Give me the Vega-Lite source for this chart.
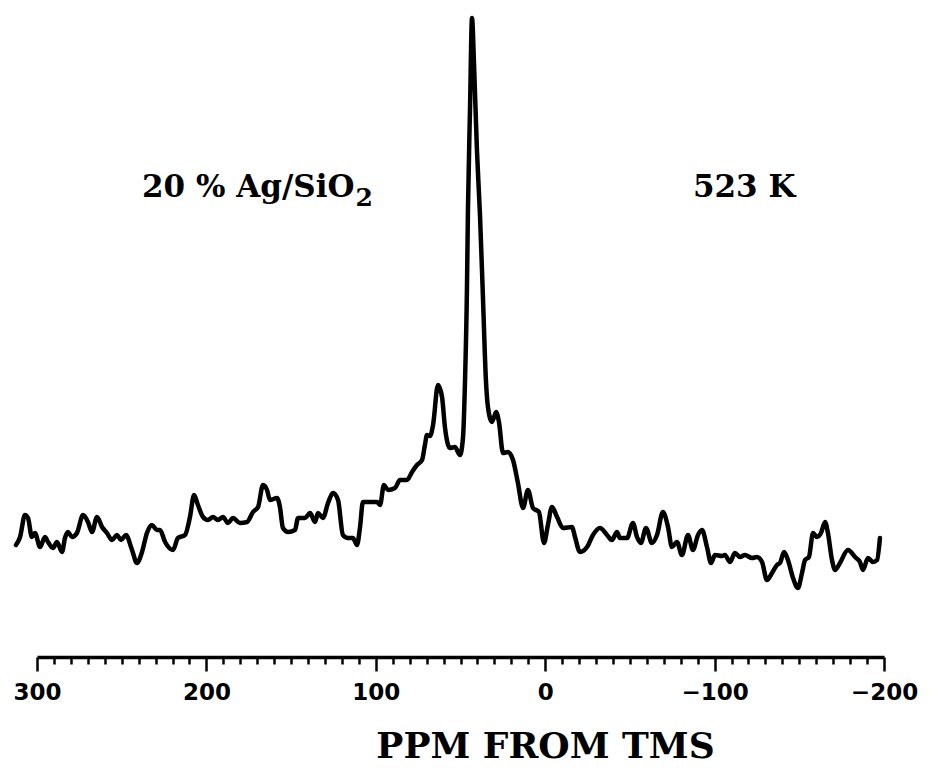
{
  "$schema": "https://vega.github.io/schema/vega-lite/v6.json",
  "width": 847,
  "height": 657,
  "autosize": {"type": "none"},
  "padding": {"left": 37, "top": 0, "right": 45, "bottom": 114},
  "background": "white",
  "view": {"stroke": null},
  "config": {"axis": {"grid": false}},
  "resolve": {"axis": {"x": "independent", "y": "independent"}},
  "layer": [
    {
      "data": {"values": [
        {"ppm": 312.4, "intensity": 112}, {"ppm": 310.0, "intensity": 120}, {"ppm": 307.1, "intensity": 142}, {"ppm": 305.3, "intensity": 139},
        {"ppm": 303.0, "intensity": 120}, {"ppm": 301.2, "intensity": 124}, {"ppm": 298.2, "intensity": 110}, {"ppm": 295.3, "intensity": 120},
        {"ppm": 293.5, "intensity": 115}, {"ppm": 290.6, "intensity": 109}, {"ppm": 288.2, "intensity": 115}, {"ppm": 285.2, "intensity": 105},
        {"ppm": 283.5, "intensity": 119}, {"ppm": 281.7, "intensity": 125}, {"ppm": 279.3, "intensity": 120}, {"ppm": 276.4, "intensity": 124},
        {"ppm": 272.8, "intensity": 142}, {"ppm": 269.9, "intensity": 135}, {"ppm": 267.5, "intensity": 125}, {"ppm": 264.6, "intensity": 140},
        {"ppm": 261.6, "intensity": 130}, {"ppm": 258.7, "intensity": 124}, {"ppm": 255.7, "intensity": 117}, {"ppm": 252.8, "intensity": 122},
        {"ppm": 250.4, "intensity": 117}, {"ppm": 247.5, "intensity": 122}, {"ppm": 243.9, "intensity": 107}, {"ppm": 241.0, "intensity": 94},
        {"ppm": 238.0, "intensity": 105}, {"ppm": 235.1, "intensity": 124}, {"ppm": 232.1, "intensity": 132}, {"ppm": 229.2, "intensity": 127},
        {"ppm": 227.4, "intensity": 127}, {"ppm": 224.4, "intensity": 115}, {"ppm": 219.7, "intensity": 107}, {"ppm": 216.8, "intensity": 119},
        {"ppm": 212.6, "intensity": 122}, {"ppm": 209.7, "intensity": 140}, {"ppm": 207.3, "intensity": 162}, {"ppm": 205.0, "intensity": 152},
        {"ppm": 202.0, "intensity": 140}, {"ppm": 199.1, "intensity": 137}, {"ppm": 196.1, "intensity": 140}, {"ppm": 193.2, "intensity": 137},
        {"ppm": 190.2, "intensity": 140}, {"ppm": 187.3, "intensity": 134}, {"ppm": 184.3, "intensity": 139}, {"ppm": 180.2, "intensity": 134},
        {"ppm": 176.0, "intensity": 135}, {"ppm": 172.5, "intensity": 145}, {"ppm": 169.5, "intensity": 150}, {"ppm": 166.6, "intensity": 172},
        {"ppm": 164.2, "intensity": 167}, {"ppm": 162.5, "intensity": 157}, {"ppm": 158.3, "intensity": 159}, {"ppm": 156.6, "intensity": 150},
        {"ppm": 154.8, "intensity": 129}, {"ppm": 151.8, "intensity": 125}, {"ppm": 147.7, "intensity": 127}, {"ppm": 145.9, "intensity": 139},
        {"ppm": 141.8, "intensity": 139}, {"ppm": 138.8, "intensity": 144}, {"ppm": 135.9, "intensity": 135}, {"ppm": 134.1, "intensity": 144},
        {"ppm": 131.2, "intensity": 139}, {"ppm": 128.2, "intensity": 154}, {"ppm": 125.3, "intensity": 164}, {"ppm": 122.3, "intensity": 157},
        {"ppm": 119.4, "intensity": 122}, {"ppm": 116.4, "intensity": 119}, {"ppm": 113.5, "intensity": 119}, {"ppm": 111.1, "intensity": 112},
        {"ppm": 109.3, "intensity": 130}, {"ppm": 107.6, "intensity": 155}, {"ppm": 103.4, "intensity": 155}, {"ppm": 99.3, "intensity": 155},
        {"ppm": 97.5, "intensity": 152}, {"ppm": 95.2, "intensity": 172}, {"ppm": 92.8, "intensity": 167}, {"ppm": 88.7, "intensity": 169},
        {"ppm": 85.7, "intensity": 177}, {"ppm": 81.6, "intensity": 177}, {"ppm": 78.6, "intensity": 185}, {"ppm": 75.7, "intensity": 192},
        {"ppm": 72.7, "intensity": 197}, {"ppm": 71.0, "intensity": 212}, {"ppm": 69.8, "intensity": 222}, {"ppm": 68.0, "intensity": 221},
        {"ppm": 66.2, "intensity": 232}, {"ppm": 63.3, "intensity": 272}, {"ppm": 60.9, "intensity": 260}, {"ppm": 59.2, "intensity": 230},
        {"ppm": 56.2, "intensity": 209}, {"ppm": 53.3, "intensity": 210}, {"ppm": 50.3, "intensity": 202}, {"ppm": 48.5, "intensity": 220},
        {"ppm": 47.4, "intensity": 272}, {"ppm": 46.2, "intensity": 367}, {"ppm": 45.6, "intensity": 447}, {"ppm": 44.4, "intensity": 547},
        {"ppm": 43.2, "intensity": 639}, {"ppm": 42.0, "intensity": 592}, {"ppm": 40.3, "intensity": 507}, {"ppm": 38.5, "intensity": 442},
        {"ppm": 36.7, "intensity": 357}, {"ppm": 35.0, "intensity": 277}, {"ppm": 33.8, "intensity": 250}, {"ppm": 31.4, "intensity": 235},
        {"ppm": 29.0, "intensity": 245}, {"ppm": 27.3, "intensity": 235}, {"ppm": 24.9, "intensity": 204}, {"ppm": 22.0, "intensity": 205},
        {"ppm": 19.0, "intensity": 197}, {"ppm": 16.1, "intensity": 174}, {"ppm": 13.1, "intensity": 149}, {"ppm": 10.2, "intensity": 167},
        {"ppm": 7.2, "intensity": 149}, {"ppm": 3.7, "intensity": 145}, {"ppm": 0.7, "intensity": 114}, {"ppm": -1.6, "intensity": 132},
        {"ppm": -4.0, "intensity": 150}, {"ppm": -7.0, "intensity": 140}, {"ppm": -10.5, "intensity": 129}, {"ppm": -15.8, "intensity": 130},
        {"ppm": -17.6, "intensity": 120}, {"ppm": -20.5, "intensity": 105}, {"ppm": -24.7, "intensity": 110}, {"ppm": -28.2, "intensity": 122},
        {"ppm": -32.3, "intensity": 129}, {"ppm": -36.5, "intensity": 122}, {"ppm": -39.4, "intensity": 117}, {"ppm": -42.4, "intensity": 125},
        {"ppm": -44.1, "intensity": 119}, {"ppm": -48.3, "intensity": 119}, {"ppm": -51.8, "intensity": 134}, {"ppm": -54.2, "intensity": 120},
        {"ppm": -56.5, "intensity": 114}, {"ppm": -59.5, "intensity": 129}, {"ppm": -63.0, "intensity": 114}, {"ppm": -66.0, "intensity": 122},
        {"ppm": -69.5, "intensity": 145}, {"ppm": -72.5, "intensity": 130}, {"ppm": -74.8, "intensity": 110}, {"ppm": -77.8, "intensity": 115},
        {"ppm": -80.7, "intensity": 102}, {"ppm": -84.3, "intensity": 122}, {"ppm": -87.2, "intensity": 107}, {"ppm": -90.2, "intensity": 122},
        {"ppm": -92.6, "intensity": 127}, {"ppm": -95.5, "intensity": 110}, {"ppm": -97.9, "intensity": 94}, {"ppm": -100.2, "intensity": 102},
        {"ppm": -104.4, "intensity": 101}, {"ppm": -106.1, "intensity": 102}, {"ppm": -109.1, "intensity": 95}, {"ppm": -112.0, "intensity": 104},
        {"ppm": -115.0, "intensity": 100}, {"ppm": -117.9, "intensity": 102}, {"ppm": -122.1, "intensity": 99}, {"ppm": -125.0, "intensity": 100},
        {"ppm": -128.0, "intensity": 95}, {"ppm": -130.9, "intensity": 77}, {"ppm": -133.9, "intensity": 84}, {"ppm": -136.8, "intensity": 92},
        {"ppm": -138.6, "intensity": 94}, {"ppm": -141.0, "intensity": 105}, {"ppm": -143.3, "intensity": 97}, {"ppm": -146.3, "intensity": 79},
        {"ppm": -149.2, "intensity": 69}, {"ppm": -151.6, "intensity": 84}, {"ppm": -153.4, "intensity": 97}, {"ppm": -155.7, "intensity": 100},
        {"ppm": -158.1, "intensity": 124}, {"ppm": -160.4, "intensity": 120}, {"ppm": -162.8, "intensity": 124}, {"ppm": -165.2, "intensity": 135},
        {"ppm": -166.9, "intensity": 124}, {"ppm": -169.3, "intensity": 97}, {"ppm": -171.1, "intensity": 87}, {"ppm": -174.0, "intensity": 94},
        {"ppm": -178.7, "intensity": 107}, {"ppm": -182.9, "intensity": 100}, {"ppm": -185.8, "intensity": 95}, {"ppm": -187.6, "intensity": 87},
        {"ppm": -190.5, "intensity": 99}, {"ppm": -193.5, "intensity": 95}, {"ppm": -195.9, "intensity": 97}, {"ppm": -197.6, "intensity": 119}
      ]},
      "mark": {"type": "line", "color": "black", "strokeWidth": 4.5, "interpolate": "monotone", "strokeJoin": "round", "strokeCap": "round", "clip": false},
      "encoding": {
        "x": {
          "field": "ppm", "type": "quantitative",
          "scale": {"domain": [300, -200], "nice": false, "zero": false},
          "axis": {
            "orient": "bottom",
            "values": [300, 290, 280, 270, 260, 250, 240, 230, 220, 210, 200, 190, 180, 170, 160, 150, 140, 130, 120, 110, 100, 90, 80, 70, 60, 50, 40, 30, 20, 10, 0, -10, -20, -30, -40, -50, -60, -70, -80, -90, -100, -110, -120, -130, -140, -150, -160, -170, -180, -190, -200],
            "tickSize": {"condition": {"test": "datum.value % 100 === 0", "value": 14}, "value": 7},
            "tickWidth": 2.5,
            "tickColor": "black",
            "domainColor": "black",
            "domainWidth": 3.5,
            "labelExpr": "datum.value % 100 === 0 ? datum.label : ''",
            "labelOverlap": false,
            "labelFlush": false,
            "labelFont": "DejaVu Sans",
            "labelFontWeight": "bold",
            "labelFontSize": 23,
            "labelColor": "black",
            "labelPadding": 10,
            "title": "PPM FROM TMS",
            "titleFont": "DejaVu Serif",
            "titleFontSize": 36,
            "titleFontWeight": "bold",
            "titleColor": "black",
            "titleAnchor": null,
            "titleX": 508,
            "titleY": 100,
            "titleAlign": "center",
            "titleBaseline": "alphabetic"
          }
        },
        "y": {
          "field": "intensity", "type": "quantitative",
          "scale": {"domain": [0, 657], "nice": false},
          "axis": null
        }
      }
    },
    {
      "data": {"values": [
        {"ppm": 238.0, "intensity": 460, "label": "20 % Ag/SiO"},
        {"ppm": -87.2, "intensity": 460, "label": "523 K"}
      ]},
      "mark": {"type": "text", "font": "DejaVu Serif", "fontSize": 31, "fontWeight": "bold", "color": "black", "align": "left", "baseline": "alphabetic"},
      "encoding": {
        "x": {"field": "ppm", "type": "quantitative", "axis": null},
        "y": {"field": "intensity", "type": "quantitative", "axis": null},
        "text": {"field": "label"}
      }
    },
    {
      "data": {"values": [
        {"ppm": 112.0, "intensity": 451, "label": "2"}
      ]},
      "mark": {"type": "text", "font": "DejaVu Serif", "fontSize": 25, "fontWeight": "bold", "color": "black", "align": "left", "baseline": "alphabetic"},
      "encoding": {
        "x": {"field": "ppm", "type": "quantitative", "axis": null},
        "y": {"field": "intensity", "type": "quantitative", "axis": null},
        "text": {"field": "label"}
      }
    }
  ]
}
